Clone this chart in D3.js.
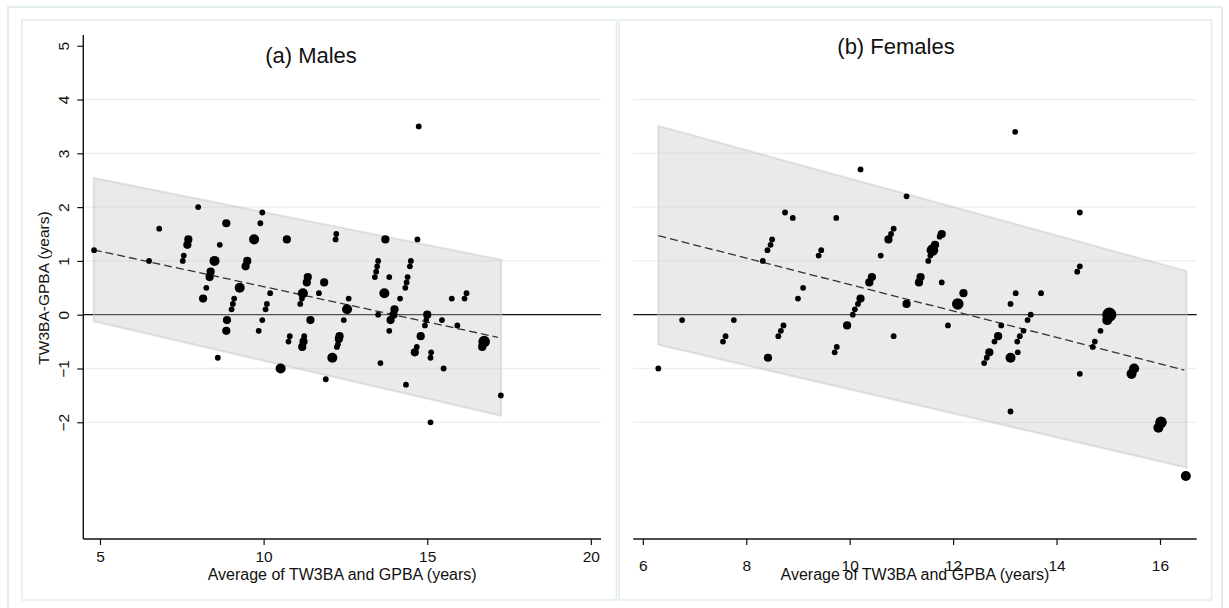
<!DOCTYPE html>
<html><head><meta charset="utf-8">
<script src="https://cdn.jsdelivr.net/npm/d3@7"></script>
<style>body{margin:0;background:#fff}svg{display:block}text{font-family:"Liberation Sans",Arial,sans-serif;fill:#111}</style>
</head><body><svg id="c" width="1229" height="608"></svg>
<script>
// ---------- DATA ----------
const panelTitles = ["(a) Males", "(b) Females"];
const xAxisTitle = "Average of TW3BA and GPBA (years)";
const yAxisTitle = "TW3BA-GPBA (years)";
const yTicks = [-2, -1, 0, 1, 2, 3, 4, 5];
const gridValues = [-2, -1, 1, 2, 3, 4];
const maleXTicks = [5, 10, 15, 20];
const femaleXTicks = [6, 8, 10, 12, 14, 16];

const maleX = [4.82,6.81,6.5,8.0,7.7,7.67,7.56,7.53,8.86,8.66,8.5,8.38,8.35,8.25,8.15,8.6,8.88,8.86,9.27,9.1,9.06,9.02,9.71,9.9,9.96,9.5,9.45,10.2,10.1,10.06,9.96,9.85,10.71,10.8,10.76,10.52,14.74,12.22,12.2,13.72,14.7,11.35,11.32,11.85,11.2,11.17,11.12,11.69,11.43,11.24,11.22,11.18,11.9,12.6,12.55,12.45,12.32,12.3,12.27,12.24,12.1,13.5,13.57,13.5,13.47,13.44,13.4,13.84,13.69,14.17,14.0,13.97,13.88,13.84,14.5,14.47,14.4,14.37,14.33,14.35,15.0,14.97,14.93,14.8,14.68,14.62,15.45,15.12,15.1,15.5,15.1,15.75,15.92,16.2,16.14,16.74,16.7,16.68,17.25];
const maleY = [1.2,1.6,1.0,2.0,1.4,1.3,1.1,1.0,1.7,1.3,1.0,0.8,0.7,0.5,0.3,-0.8,-0.1,-0.3,0.5,0.3,0.2,0.1,1.4,1.7,1.9,1.0,0.9,0.4,0.2,0.1,-0.1,-0.3,1.4,-0.4,-0.5,-1.0,3.5,1.5,1.4,1.4,1.4,0.7,0.6,0.6,0.4,0.3,0.2,0.4,-0.1,-0.4,-0.5,-0.6,-1.2,0.3,0.1,-0.1,-0.4,-0.45,-0.55,-0.6,-0.8,0.0,-0.9,1.0,0.9,0.8,0.7,0.7,0.4,0.3,0.1,0.0,-0.1,-0.3,1.0,0.9,0.7,0.6,0.5,-1.3,0.0,-0.1,-0.2,-0.4,-0.6,-0.7,-0.1,-0.7,-0.8,-1.0,-2.0,0.3,-0.2,0.4,0.3,-0.5,-0.55,-0.6,-1.5];
const maleW = [1,1,1,1,2,2,1,1,2,1,3,2,2,1,2,1,2,2,3,1,1,1,3,1,1,2,2,1,1,1,1,1,2,1,1,3,1,1,1,2,1,2,2,2,3,1,1,1,2,1,2,2,1,1,3,1,2,2,1,1,3,1,1,1,1,1,1,1,3,1,2,2,2,1,1,1,1,1,1,1,2,1,1,2,1,2,1,1,1,1,1,1,1,1,1,4,2,2,1];

const femaleX = [6.3,6.76,7.6,7.55,7.76,8.32,8.5,8.47,8.41,8.75,8.9,9.1,9.0,8.72,8.67,8.62,8.42,9.74,9.45,9.4,10.21,9.75,9.71,9.95,10.21,10.16,10.1,10.06,10.43,10.38,10.6,10.85,10.8,10.75,11.1,10.85,11.1,11.37,11.34,13.2,11.78,11.74,11.65,11.6,11.56,11.52,11.78,11.9,12.09,12.2,12.93,12.87,12.8,12.7,12.65,12.6,13.11,13.21,13.11,13.11,13.5,13.44,13.36,13.29,13.24,13.25,13.7,14.45,14.45,14.4,14.45,15.02,14.98,14.85,14.74,14.7,15.5,15.45,16.02,15.97,16.5];
const femaleY = [-1.0,-0.1,-0.4,-0.5,-0.1,1.0,1.4,1.3,1.2,1.9,1.8,0.5,0.3,-0.2,-0.3,-0.4,-0.8,1.8,1.2,1.1,2.7,-0.6,-0.7,-0.2,0.3,0.2,0.1,0.0,0.7,0.6,1.1,1.6,1.5,1.4,2.2,-0.4,0.2,0.7,0.6,3.4,1.5,1.45,1.3,1.2,1.1,1.0,0.6,-0.2,0.2,0.4,-0.2,-0.4,-0.5,-0.7,-0.8,-0.9,0.2,0.4,-0.8,-1.8,0.0,-0.1,-0.3,-0.4,-0.5,-0.7,0.4,1.9,0.9,0.8,-1.1,0.0,-0.1,-0.3,-0.5,-0.6,-1.0,-1.1,-2.0,-2.1,-3.0];
const femaleW = [1,1,1,1,1,1,1,1,1,1,1,1,1,1,1,1,2,1,1,1,1,1,1,2,2,1,1,1,2,2,1,1,1,2,1,1,2,2,2,1,2,1,2,4,1,1,1,1,4,2,1,2,1,2,1,1,1,1,3,1,1,1,1,1,1,1,1,1,1,1,1,6,3,1,1,1,3,3,4,3,3];

// limits-of-agreement band and regression line
const maleBandX = [4.81, 17.26];
const maleBandUpper = [2.54, 1.02];
const maleBandLower = [-0.12, -1.88];
const maleLineX = [4.81, 17.16];
const maleLineY = [1.205, -0.42];
const femaleBandX = [6.30, 16.51];
const femaleBandUpper = [3.51, 0.81];
const femaleBandLower = [-0.56, -2.84];
const femaleLineX = [6.30, 16.47];
const femaleLineY = [1.47, -1.03];

// ---------- DRAW ----------
const svg = d3.select("#c");
const borderCol = "#e4eded";
svg.append("rect").attr("x",8).attr("y",7).attr("width",1214).attr("height",620)
  .attr("fill","none").attr("stroke",borderCol).attr("stroke-width",2);
svg.append("rect").attr("x",22).attr("y",20).attr("width",594.5).attr("height",580)
  .attr("fill","none").attr("stroke",borderCol).attr("stroke-width",1.6);
svg.append("rect").attr("x",619).attr("y",20).attr("width",592.5).attr("height",580)
  .attr("fill","none").attr("stroke",borderCol).attr("stroke-width",1.6);

const y = d3.scaleLinear().domain([-4.17, 5.2]).range([539, 35]);
const r = d3.scaleSqrt().domain([0, 1]).range([0, 2.9]);

const panels = [
  {x: d3.scaleLinear().domain([4.49, 20.31]).range([83.3, 601]), xs: maleX, ys: maleY, ws: maleW,
   ticks: maleXTicks, bx: maleBandX, bu: maleBandUpper, bl: maleBandLower, lx: maleLineX, ly: maleLineY,
   title: panelTitles[0], tx: 311, ty: 63, tickY: 12, titleY: 580, yAxis: true},
  {x: d3.scaleLinear().domain([5.816, 16.71]).range([633.3, 1196.7]), xs: femaleX, ys: femaleY, ws: femaleW,
   ticks: femaleXTicks, bx: femaleBandX, bu: femaleBandUpper, bl: femaleBandLower, lx: femaleLineX, ly: femaleLineY,
   title: panelTitles[1], tx: 896, ty: 54, tickY: 21, titleY: 580, yAxis: false}
];

panels.forEach(p => {
  const g = svg.append("g");
  const [x0, x1] = p.x.range();
  g.selectAll(".grid").data(gridValues).join("line")
    .attr("x1", x0).attr("x2", x1).attr("y1", d => y(d)).attr("y2", d => y(d))
    .attr("stroke", "#e8f0f0").attr("stroke-width", 1.3);
  g.append("line").attr("x1", x0).attr("x2", x1).attr("y1", y(0)).attr("y2", y(0))
    .attr("stroke", "#111").attr("stroke-width", 1.3);
  const bandPts = p.bx.map((v,i) => [p.x(v), y(p.bu[i])])
    .concat(p.bx.map((v,i) => [p.x(v), y(p.bl[i])]).reverse());
  g.append("path").attr("d", d3.line()(bandPts) + "Z")
    .attr("fill", "#c4c4c4").attr("fill-opacity", 0.36)
    .attr("stroke", "#c8c8c8").attr("stroke-opacity", 0.5).attr("stroke-width", 2);
  g.append("path").attr("d", d3.line()(p.lx.map((v,i) => [p.x(v), y(p.ly[i])])))
    .attr("fill","none").attr("stroke","#333").attr("stroke-width",1.3).attr("stroke-dasharray","8,4");
  g.selectAll("circle").data(p.xs.map((v,i) => ({x: v, y: p.ys[i], w: p.ws[i]})))
    .join("circle").attr("cx", d => p.x(d.x)).attr("cy", d => y(d.y)).attr("r", d => r(d.w))
    .attr("fill", "#000");
  const xa = g.append("g").attr("transform", `translate(0,539)`)
    .call(d3.axisBottom(p.x).tickValues(p.ticks).tickSize(6).tickSizeOuter(0).tickPadding(p.tickY - 6));
  xa.select(".domain").attr("stroke","#111").attr("stroke-width",1.4).attr("d", `M${x0},0H${x1}`);
  xa.selectAll(".tick line").attr("stroke","#111").attr("stroke-width",1.2);
  xa.selectAll(".tick text").attr("font-size",15.5).attr("fill","#111")
    .attr("font-family","Liberation Sans, Arial, sans-serif");
  g.append("text").attr("x", (x0 + x1) / 2).attr("y", p.titleY).attr("text-anchor","middle")
    .attr("font-size", 16).text(xAxisTitle);
  g.append("text").attr("x", p.tx).attr("y", p.ty).attr("text-anchor","middle")
    .attr("font-size", 22).text(p.title);
  if (p.yAxis) {
    const ya = g.append("g").attr("transform", `translate(${x0},0)`)
      .call(d3.axisLeft(y).tickValues(yTicks).tickSize(6).tickSizeOuter(0).tickFormat(d3.format("d")));
    ya.select(".domain").attr("stroke","#111").attr("stroke-width",1.4).attr("d", `M0,${y.range()[1]}V${y.range()[0]}`);
    ya.selectAll(".tick line").attr("stroke","#111").attr("stroke-width",1.2);
    ya.selectAll(".tick text").attr("font-size",15.5).attr("fill","#111")
      .attr("font-family","Liberation Sans, Arial, sans-serif")
      .attr("text-anchor","middle").attr("x",0).attr("dy",0)
      .attr("transform","translate(-20,0) rotate(-90)").attr("y",0).attr("dominant-baseline","central");
    g.append("text").attr("transform", "translate(49,288) rotate(-90)").attr("text-anchor","middle")
      .attr("font-size", 15.5).text(yAxisTitle);
  }
});
</script></body></html>
